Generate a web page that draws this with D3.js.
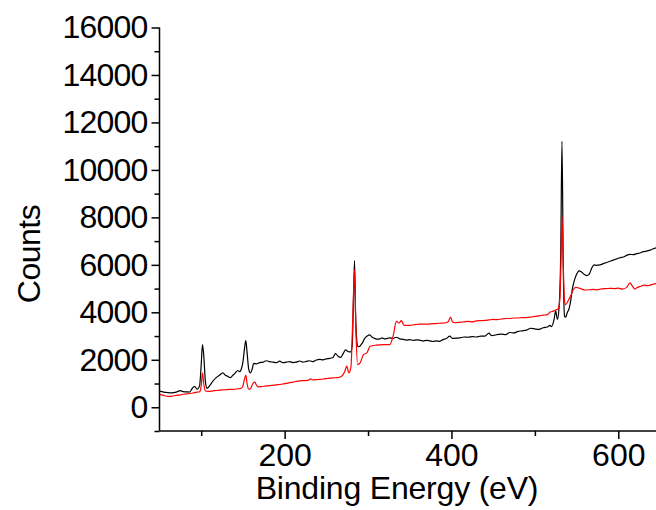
<!DOCTYPE html>
<html>
<head>
<meta charset="utf-8">
<script src="https://cdn.jsdelivr.net/npm/d3@7"></script>
<style>
    body { margin: 0; background: #fff; }
    svg text { font-family: "Liberation Sans", Arial, sans-serif; fill: #000; }
</style>
</head>
<body>
<div id="chart"></div>
<script>
// binding energy (eV) and counts, black survey
var black_ev = [50, 55, 60, 65, 70, 75, 78, 82, 86, 89, 92, 95, 98, 100, 101.5, 103, 105, 107, 110, 114,
    118, 122, 126, 129, 132, 135, 138, 141, 144, 146, 148, 150, 152, 153.5, 155, 157, 159, 161, 163, 166,
    170, 174, 178, 182, 186, 190, 194, 198, 202, 206, 210, 214, 218, 222, 226, 230, 234, 238, 242, 246,
    250, 254, 258, 261, 264, 267, 270, 273, 276, 279, 281, 282.5, 283.8, 285, 286.5, 288, 290, 293, 296, 299,
    302, 305, 308, 311, 314, 317, 320, 323, 326, 330, 334, 338, 342, 346, 350, 354, 358, 362, 366, 370,
    374, 378, 382, 386, 390, 394, 398, 401, 405, 410, 415, 420, 425, 430, 435, 440, 445, 448, 452, 456,
    460, 465, 470, 475, 480, 485, 490, 495, 500, 505, 510, 515, 518, 520, 523, 525, 527, 529, 531, 532.5,
    534, 535.5, 537, 539, 541, 543, 545, 547, 550, 553, 556, 559, 562, 565, 568, 571, 574, 578, 582, 586,
    590, 594, 598, 602, 606, 610, 614, 618, 622, 626, 630, 634, 638, 642, 646];
var black_counts = [680, 640, 620, 610, 640, 700, 660, 650, 640, 780, 880, 760, 900, 1800, 2640, 2200, 1100, 800, 900, 1100,
    1250, 1350, 1450, 1350, 1300, 1250, 1350, 1450, 1550, 1500, 1600, 1900, 2500, 2810, 2300, 1600, 1450, 1600, 1850, 1830,
    1880, 1900, 1960, 1920, 1900, 1880, 1940, 1880, 1900, 1920, 1880, 1900, 1950, 1900, 1930, 1960, 1920, 1990, 2020, 2000,
    2040, 2060, 2100, 2260, 2150, 2100, 2250, 2420, 2350, 2330, 2600, 4500, 6180, 4000, 2800, 2550, 2570, 2700, 2900, 3000,
    3050, 2950, 2900, 2870, 2880, 2920, 2880, 2900, 2920, 2900, 2950, 2880, 2860, 2830, 2850, 2820, 2840, 2830, 2790, 2820,
    2800, 2770, 2800, 2780, 2850, 2900, 3000, 2900, 2910, 2920, 2960, 2950, 2980, 2960, 3000, 3000, 3120, 3020, 3040, 3070,
    3080, 3060, 3150, 3130, 3200, 3220, 3250, 3330, 3300, 3280, 3350, 3380, 3450, 3400, 3700, 4050, 3700, 4200, 6500, 11200,
    6000, 3850, 3800, 4000, 4150, 4500, 5000, 5300, 5600, 5750, 5700, 5600, 5550, 5600, 5850, 6000, 5980, 6000, 6050, 6100,
    6150, 6200, 6250, 6300, 6330, 6400, 6440, 6430, 6470, 6500, 6560, 6580, 6620, 6680, 6720];

// red survey
var red_ev = [50, 55, 60, 65, 70, 75, 80, 85, 90, 95, 98, 100, 101.5, 103, 105, 108, 112, 116, 120, 125,
    130, 135, 140, 145, 148, 150, 152, 153.5, 155, 157, 159, 162, 164, 166, 168, 172, 178, 185, 192, 198,
    204, 210, 216, 222, 228, 231, 234, 240, 246, 252, 258, 263, 268, 272, 274.5, 277, 279.5, 281.5, 283.8, 285.5,
    287.5, 290.5, 294.5, 298.5, 302.5, 310, 318, 326, 330, 334, 337, 340, 343, 346, 350, 356, 362, 370, 378, 386,
    392, 396, 399, 401, 404, 410, 415, 420, 425, 430, 435, 440, 445, 450, 455, 460, 465, 470, 475, 480,
    485, 490, 495, 500, 505, 510, 515, 518, 522, 525, 528, 530, 531.5, 532.5, 534, 535.5, 537, 540, 543, 546,
    549, 552, 556, 560, 565, 570, 575, 580, 585, 590, 595, 600, 605, 610, 614, 617, 620, 623, 627, 631,
    635, 640, 646];
var red_counts = [540, 500, 460, 470, 500, 520, 560, 570, 600, 640, 650, 900, 1450, 1000, 700, 670, 680, 700, 710, 730,
    740, 750, 760, 780, 800, 900, 1200, 1350, 1000, 760, 780, 1000, 1070, 950, 860, 870, 900, 920, 950, 980,
    1020, 1060, 1100, 1120, 1130, 1200, 1150, 1170, 1190, 1220, 1240, 1250, 1300, 1500, 1730, 1450, 1700, 3500, 5800, 3200,
    1800, 1870, 2220, 2290, 2570, 2620, 2640, 2640, 2990, 3620, 3550, 3650, 3450, 3450, 3450, 3480, 3500, 3500, 3520, 3540,
    3550, 3600, 3800, 3600, 3560, 3580, 3600, 3620, 3600, 3640, 3650, 3660, 3680, 3700, 3690, 3720, 3740, 3740, 3760, 3760,
    3780, 3780, 3800, 3830, 3850, 3880, 3900, 4000, 4050, 4100, 4150, 4600, 6500, 8040, 6000, 4500, 4320, 4500, 4700, 4950,
    5050, 5030, 4980, 4940, 4950, 4970, 4950, 4990, 5000, 5010, 5000, 5020, 4980, 5050, 5240, 5100, 4980, 5050, 5100, 5150,
    5120, 5170, 5210];

var y_major = [0, 2000, 4000, 6000, 8000, 10000, 12000, 14000, 16000];
var y_minor = [-1000, 1000, 3000, 5000, 7000, 9000, 11000, 13000, 15000];
var x_major = [200, 400, 600];
var x_minor = [100, 300, 500];

var width = 656, height = 510;
var fontSize = 32;

var svg = d3.select("#chart")
    .append("svg")
    .attr("width", width)
    .attr("height", height);

var xScale = d3.scaleLinear()
    .domain([50, 650])
    .range([159.5, 660]);

var yScale = d3.scaleLinear()
    .domain([-1000, 16000])
    .range([431, 27.5]);

// traces
var line = d3.line()
    .x(function(d) { return xScale(d[0]); })
    .y(function(d) { return yScale(d[1]); })
    .curve(d3.curveMonotoneX);

var blackData = black_ev.map(function(e, i) { return [e, black_counts[i]]; });
var redData = red_ev.map(function(e, i) { return [e, red_counts[i]]; });

svg.append("path")
    .attr("d", line(blackData))
    .attr("fill", "none")
    .attr("stroke", "#000")
    .attr("stroke-width", 1.2);

svg.append("path")
    .attr("d", line(redData))
    .attr("fill", "none")
    .attr("stroke", "#ff0000")
    .attr("stroke-width", 1.2);

// y axis, major ticks labelled, minor ticks unlabelled
var yAxis = d3.axisLeft(yScale)
    .tickValues(y_major)
    .tickSize(8)
    .tickPadding(5)
    .tickFormat(d3.format("d"));

var yAxisMinor = d3.axisLeft(yScale)
    .tickValues(y_minor)
    .tickSize(5)
    .tickFormat("");

var gy = svg.append("g")
    .attr("transform", "translate(159.5,0)")
    .call(yAxis);
svg.append("g")
    .attr("transform", "translate(159.5,0)")
    .call(yAxisMinor)
    .select(".domain").remove();

gy.select(".domain").attr("d", "M0," + yScale(-1000) + "V" + yScale(16000));

var xAxis = d3.axisBottom(xScale)
    .tickValues(x_major)
    .tickSize(8)
    .tickPadding(4);

var xAxisMinor = d3.axisBottom(xScale)
    .tickValues(x_minor)
    .tickSize(5)
    .tickFormat("");

var gx = svg.append("g")
    .attr("transform", "translate(0,431)")
    .call(xAxis);
svg.append("g")
    .attr("transform", "translate(0,431)")
    .call(xAxisMinor)
    .select(".domain").remove();

gx.select(".domain").attr("d", "M159.5,0H" + width);

svg.selectAll(".tick line, .domain")
    .attr("stroke", "#000")
    .attr("stroke-width", 1.5);

svg.selectAll(".tick text")
    .attr("font-size", fontSize)
    .attr("font-family", null);

// the reference digits sit a little tighter
gy.selectAll(".tick text")
    .attr("letter-spacing", "-0.8px")
    .attr("x", -12);

// axis titles
svg.append("text")
    .attr("text-anchor", "middle")
    .attr("transform", "translate(40,254)rotate(-90)")
    .attr("font-size", fontSize)
    .attr("letter-spacing", "-0.5px")
    .text("Counts");

svg.append("text")
    .attr("text-anchor", "middle")
    .attr("x", 397)
    .attr("y", 499)
    .attr("font-size", fontSize)
    .attr("letter-spacing", "-0.2px")
    .text("Binding Energy (eV)");
</script>
</body>
</html>
